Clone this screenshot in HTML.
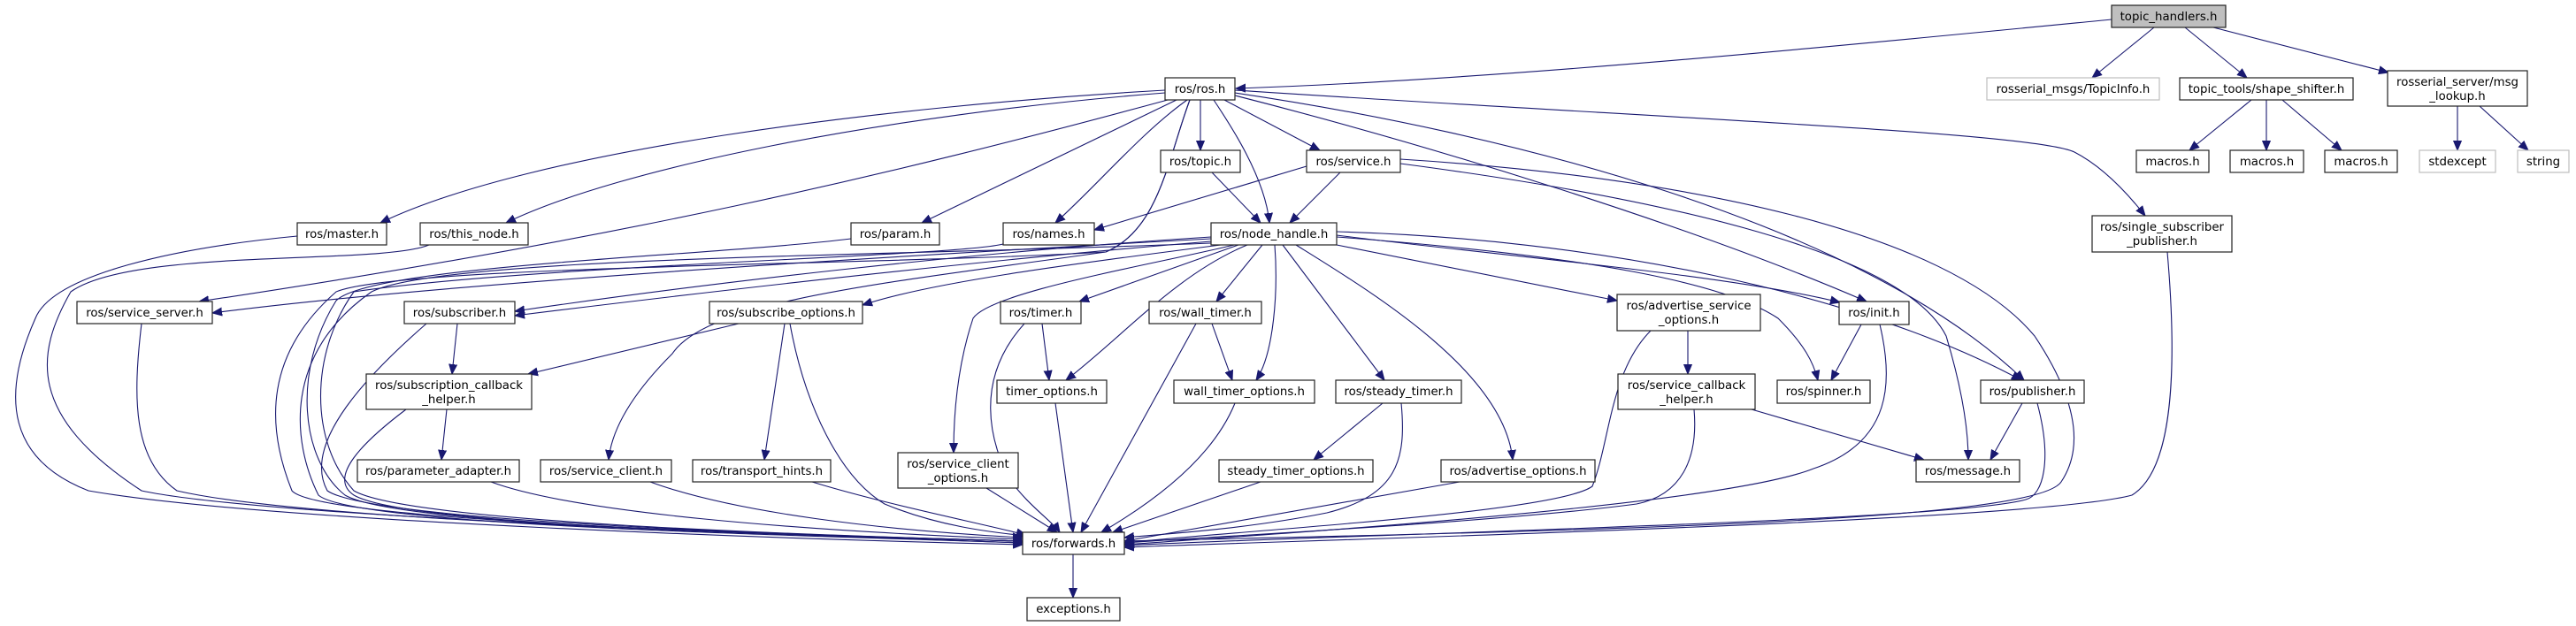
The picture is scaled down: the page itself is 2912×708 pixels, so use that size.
<!DOCTYPE html>
<html><head><meta charset="utf-8">
<style>
html,body{margin:0;padding:0;background:#fff;}
svg{display:block;}
text{font-family:"DejaVu Sans","Liberation Sans",sans-serif;font-size:13.3px;fill:#000;}
.n{fill:#fff;stroke:#222;stroke-width:1.2;}
.g{fill:#fff;stroke:#bfbfbf;stroke-width:1.2;}
.e{fill:none;stroke:#191970;stroke-width:1.1;marker-end:url(#a);}
</style></head>
<body>
<svg width="2912" height="708" viewBox="0 0 2912 708" xmlns="http://www.w3.org/2000/svg">
<defs>
<marker id="a" markerUnits="userSpaceOnUse" markerWidth="12" markerHeight="10" refX="11" refY="5" orient="auto">
<path d="M0,0.5 L11,5 L0,9.5 z" fill="#191970" stroke="#191970"/>
</marker>
</defs>
<g>
<path class="e" d="M2387,22 C2100,50 1700,90 1397,100"/>
<path class="e" d="M2435,31 L2365,88"/>
<path class="e" d="M2470,31 L2540,88"/>
<path class="e" d="M2502,31 L2700,82"/>
<path class="e" d="M2545,113 L2475,170"/>
<path class="e" d="M2562,113 L2562,170"/>
<path class="e" d="M2580,113 L2647,170"/>
<path class="e" d="M2778,120 L2778,170"/>
<path class="e" d="M2803,120 L2858,170"/>
<path class="e" d="M1357,113 L1357,170"/>
<path class="e" d="M1384,113 L1492,170"/>
<path class="e" d="M1372,113 C1390,140 1430,200 1435,252"/>
<path class="e" d="M1342,113 C1290,150 1240,210 1193,252"/>
<path class="e" d="M1330,113 L1042,252"/>
<path class="e" d="M1317,102 C1000,120 600,170 430,252"/>
<path class="e" d="M1317,105 C1000,130 700,190 572,252"/>
<path class="e" d="M1320,113 C1000,200 700,270 225,341"/>
<path class="e" d="M1396,108 C1600,160 1900,250 2110,341"/>
<path class="e" d="M1396,105 C1700,150 2100,250 2288,430"/>
<path class="e" d="M1396,102 C1900,135 2300,150 2345,172 C2380,190 2410,225 2425,244"/>
<path class="e" d="M1345,113 C1320,180 1310,260 1250,285 C1000,320 800,340 760,400 C700,460 690,500 688,520"/>
<path class="e" d="M1477,188 L1237,260"/>
<path class="e" d="M1515,195 L1458,252"/>
<path class="e" d="M1583,185 C1850,220 2150,280 2200,380 C2215,430 2225,480 2225,520"/>
<path class="e" d="M1583,180 C1900,200 2200,260 2300,380 C2340,440 2360,500 2330,545 C2300,590 1800,600 1271,612"/>
<path class="e" d="M1370,195 L1425,252"/>
<path class="e" d="M1369,270 C1000,290 500,320 240,354"/>
<path class="e" d="M1369,268 C1100,285 800,320 582,352"/>
<path class="e" d="M1369,273 C1100,295 800,330 582,357"/>
<path class="e" d="M1380,277 C1200,300 1050,320 975,345"/>
<path class="e" d="M1400,277 L1220,341"/>
<path class="e" d="M1427,277 L1375,341"/>
<path class="e" d="M1410,277 C1330,310 1270,380 1205,430"/>
<path class="e" d="M1441,277 C1445,330 1440,400 1420,430"/>
<path class="e" d="M1450,277 L1565,430"/>
<path class="e" d="M1465,277 C1550,330 1700,420 1710,520"/>
<path class="e" d="M1511,277 L1828,340"/>
<path class="e" d="M1395,277 C1300,300 1120,330 1100,360 C1080,420 1078,480 1078,512"/>
<path class="e" d="M1511,266 C1700,290 1950,310 2080,342"/>
<path class="e" d="M1511,268 C1800,290 1950,320 2010,360 C2040,390 2050,410 2055,430"/>
<path class="e" d="M1511,262 C1800,270 2100,330 2285,430"/>
<path class="e" d="M1345,113 C1320,180 1310,260 1250,285 C1000,300 450,300 380,330 C300,400 300,480 330,555 C360,590 900,605 1156,612"/>
<path class="e" d="M1369,275 C1000,290 500,290 420,330 C320,400 330,500 360,560 C400,595 900,605 1156,614"/>
<path class="e" d="M336,267 C200,280 60,310 40,360 C0,450 10,520 100,555 C300,590 900,610 1156,616"/>
<path class="e" d="M485,277 C430,300 150,280 80,330 C40,400 30,470 160,555 C300,585 900,605 1156,614"/>
<path class="e" d="M962,270 C800,290 420,300 380,340 C330,420 340,520 390,560 C450,595 900,605 1156,612"/>
<path class="e" d="M1134,276 C1080,290 600,300 400,330 C350,400 350,500 400,555 C460,590 900,605 1156,612"/>
<path class="e" d="M160,366 C150,450 150,520 200,555 C350,590 900,605 1156,612"/>
<path class="e" d="M482,366 C420,420 340,500 370,555 C420,590 900,605 1156,612"/>
<path class="e" d="M893,366 C910,460 950,540 1000,570 C1060,595 1120,602 1160,606"/>
<path class="e" d="M835,366 L597,423"/>
<path class="e" d="M887,366 L864,520"/>
<path class="e" d="M517,366 L511,423"/>
<path class="e" d="M505,463 L499,520"/>
<path class="e" d="M459,463 C410,500 370,540 400,560 C460,595 900,605 1156,612"/>
<path class="e" d="M555,545 C650,580 900,600 1156,610"/>
<path class="e" d="M735,545 C830,580 1000,600 1156,608"/>
<path class="e" d="M918,545 C1000,570 1100,590 1160,605"/>
<path class="e" d="M1178,366 L1186,430"/>
<path class="e" d="M1158,366 C1100,430 1120,500 1140,540 C1160,570 1190,590 1198,602"/>
<path class="e" d="M1370,366 L1393,430"/>
<path class="e" d="M1352,366 L1222,602"/>
<path class="e" d="M1193,456 L1213,602"/>
<path class="e" d="M1396,456 C1370,520 1300,570 1245,602"/>
<path class="e" d="M1115,552 L1195,602"/>
<path class="e" d="M1563,456 L1485,520"/>
<path class="e" d="M1584,456 C1590,520 1580,560 1500,580 C1400,600 1300,605 1271,608"/>
<path class="e" d="M1425,545 L1258,602"/>
<path class="e" d="M1650,545 L1271,612"/>
<path class="e" d="M1908,374 L1908,423"/>
<path class="e" d="M1866,374 C1820,420 1820,500 1800,550 C1760,580 1400,600 1271,614"/>
<path class="e" d="M1980,463 L2175,520"/>
<path class="e" d="M1915,463 C1920,520 1900,560 1850,570 C1700,590 1400,605 1271,614"/>
<path class="e" d="M2104,367 L2070,430"/>
<path class="e" d="M2125,367 C2140,430 2140,500 2050,530 C1950,570 1500,600 1271,616"/>
<path class="e" d="M2286,456 L2250,520"/>
<path class="e" d="M2303,456 C2320,520 2310,560 2290,565 C2200,590 1500,605 1271,617"/>
<path class="e" d="M2450,285 C2460,400 2460,530 2410,560 C2300,590 1500,610 1271,619"/>
<path class="e" d="M1213,627 L1213,676"/>
</g>
<g text-anchor="middle">
<rect x="2387" y="6" width="129" height="25" fill="#bfbfbf" stroke="#222" stroke-width="1.2"/><text x="2451.5" y="23">topic_handlers.h</text>
<rect class="n" x="1317" y="88" width="79" height="25"/><text x="1356.5" y="105">ros/ros.h</text>
<rect class="g" x="2246" y="88" width="195" height="25"/><text x="2343.5" y="105">rosserial_msgs/TopicInfo.h</text>
<rect class="n" x="2464" y="88" width="196" height="25"/><text x="2562" y="105">topic_tools/shape_shifter.h</text>
<rect class="n" x="2699" y="80" width="158" height="40"/><text x="2778" y="97">rosserial_server/msg</text><text x="2778" y="113">_lookup.h</text>
<rect class="n" x="2415" y="170" width="82" height="25"/><text x="2456" y="187">macros.h</text>
<rect class="n" x="2521" y="170" width="83" height="25"/><text x="2562.5" y="187">macros.h</text>
<rect class="n" x="2628" y="170" width="82" height="25"/><text x="2669" y="187">macros.h</text>
<rect class="g" x="2735" y="170" width="86" height="25"/><text x="2778" y="187">stdexcept</text>
<rect class="g" x="2846" y="170" width="58" height="25"/><text x="2875" y="187">string</text>
<rect class="n" x="1312" y="170" width="90" height="25"/><text x="1357" y="187">ros/topic.h</text>
<rect class="n" x="1477" y="170" width="106" height="25"/><text x="1530" y="187">ros/service.h</text>
<rect class="n" x="336" y="252" width="101" height="25"/><text x="386.5" y="269">ros/master.h</text>
<rect class="n" x="475" y="252" width="122" height="25"/><text x="536" y="269">ros/this_node.h</text>
<rect class="n" x="962" y="252" width="100" height="25"/><text x="1012" y="269">ros/param.h</text>
<rect class="n" x="1134" y="252" width="103" height="25"/><text x="1185.5" y="269">ros/names.h</text>
<rect class="n" x="1369" y="252" width="142" height="25"/><text x="1440" y="269">ros/node_handle.h</text>
<rect class="n" x="2365" y="244" width="158" height="41"/><text x="2444" y="261">ros/single_subscriber</text><text x="2444" y="277">_publisher.h</text>
<rect class="n" x="87" y="341" width="153" height="25"/><text x="163.5" y="358">ros/service_server.h</text>
<rect class="n" x="457" y="341" width="125" height="25"/><text x="519.5" y="358">ros/subscriber.h</text>
<rect class="n" x="802" y="341" width="173" height="25"/><text x="888.5" y="358">ros/subscribe_options.h</text>
<rect class="n" x="1131" y="341" width="91" height="25"/><text x="1176.5" y="358">ros/timer.h</text>
<rect class="n" x="1299" y="341" width="127" height="25"/><text x="1362.5" y="358">ros/wall_timer.h</text>
<rect class="n" x="1828" y="333" width="162" height="41"/><text x="1909" y="350">ros/advertise_service</text><text x="1909" y="366">_options.h</text>
<rect class="n" x="2079" y="341" width="79" height="26"/><text x="2118.5" y="358">ros/init.h</text>
<rect class="n" x="414" y="423" width="187" height="40"/><text x="507.5" y="440">ros/subscription_callback</text><text x="507.5" y="456">_helper.h</text>
<rect class="n" x="1127" y="430" width="124" height="26"/><text x="1189" y="447">timer_options.h</text>
<rect class="n" x="1327" y="430" width="159" height="26"/><text x="1406.5" y="447">wall_timer_options.h</text>
<rect class="n" x="1510" y="430" width="142" height="26"/><text x="1581" y="447">ros/steady_timer.h</text>
<rect class="n" x="1829" y="423" width="155" height="40"/><text x="1906.5" y="440">ros/service_callback</text><text x="1906.5" y="456">_helper.h</text>
<rect class="n" x="2009" y="430" width="105" height="26"/><text x="2061.5" y="447">ros/spinner.h</text>
<rect class="n" x="2239" y="430" width="117" height="26"/><text x="2297.5" y="447">ros/publisher.h</text>
<rect class="n" x="404" y="520" width="183" height="25"/><text x="495.5" y="537">ros/parameter_adapter.h</text>
<rect class="n" x="611" y="520" width="148" height="25"/><text x="685" y="537">ros/service_client.h</text>
<rect class="n" x="783" y="520" width="156" height="25"/><text x="861" y="537">ros/transport_hints.h</text>
<rect class="n" x="1015" y="512" width="136" height="40"/><text x="1083" y="529">ros/service_client</text><text x="1083" y="545">_options.h</text>
<rect class="n" x="1378" y="520" width="174" height="25"/><text x="1465" y="537">steady_timer_options.h</text>
<rect class="n" x="1629" y="520" width="174" height="25"/><text x="1716" y="537">ros/advertise_options.h</text>
<rect class="n" x="2166" y="520" width="117" height="25"/><text x="2224.5" y="537">ros/message.h</text>
<rect class="n" x="1156" y="602" width="115" height="25"/><text x="1213.5" y="619">ros/forwards.h</text>
<rect class="n" x="1161" y="676" width="105" height="26"/><text x="1213.5" y="693">exceptions.h</text>
</g>
</svg>
</body></html>
